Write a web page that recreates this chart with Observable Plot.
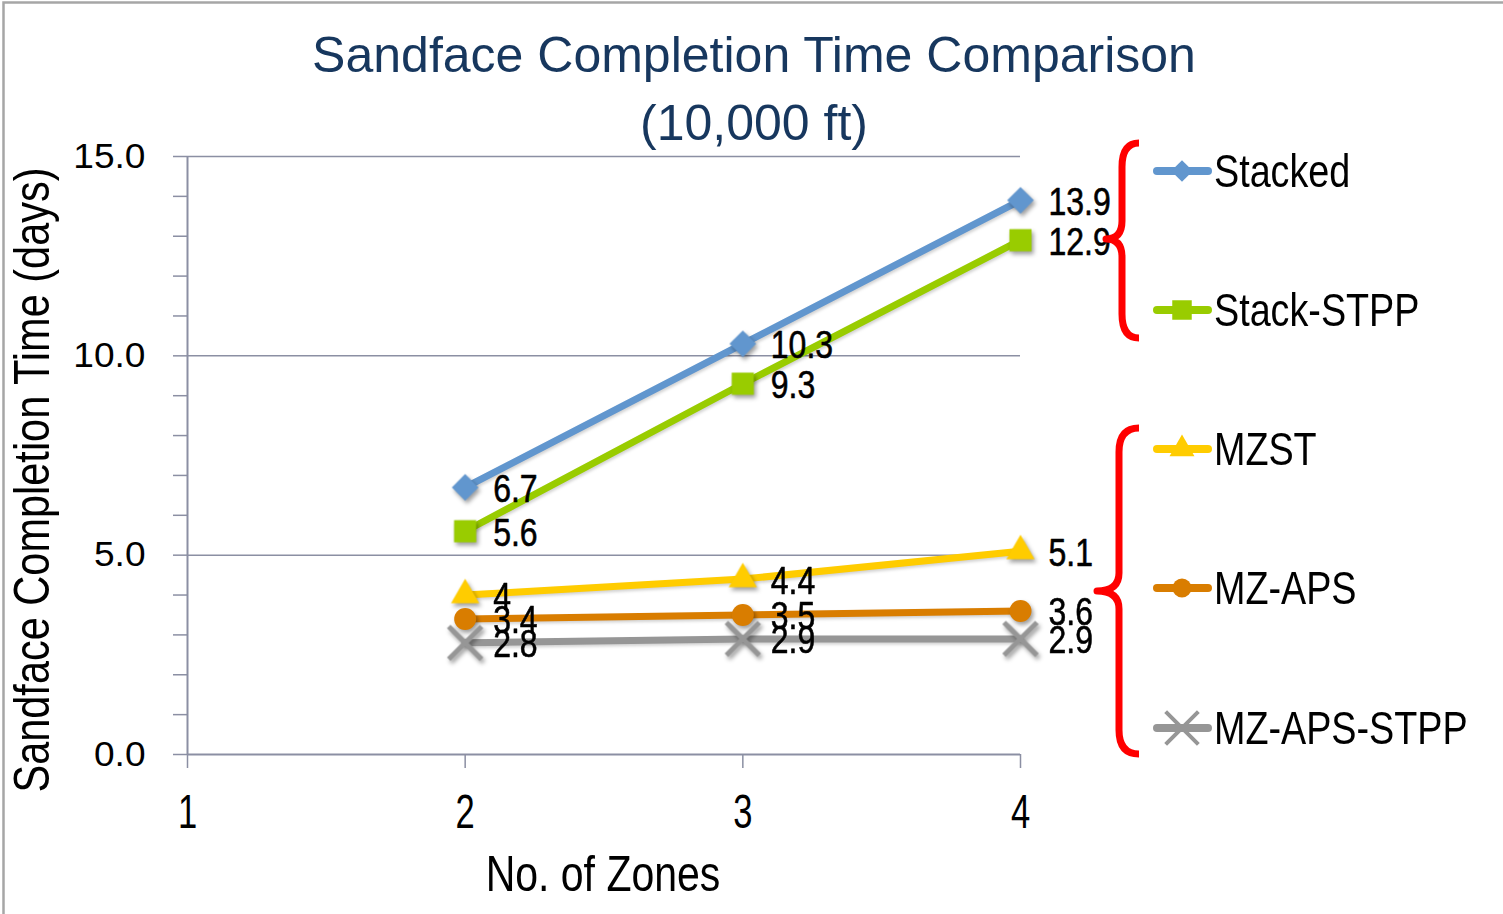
<!DOCTYPE html>
<html><head><meta charset="utf-8">
<script src="https://cdn.jsdelivr.net/npm/d3@7"></script>
<script src="https://cdn.jsdelivr.net/npm/@observablehq/plot@0.6"></script>
<style>
body{margin:0;background:#fff;}
#wrap{position:relative;width:1503px;height:914px;overflow:hidden;background:#fff;}
#wrap svg{position:absolute;left:0;top:0;}
g[aria-label="dot"]{filter:drop-shadow(2px 3px 2px rgba(0,0,0,0.38));}
g[aria-label="line"]{filter:drop-shadow(1px 2px 1.5px rgba(0,0,0,0.18));}
</style></head><body><div id="wrap"></div>
<script>
const FONT = "'Liberation Sans',Arial,sans-serif";

// ---- data ----
const titleLines = ["Sandface Completion Time Comparison", "(10,000 ft)"];
const xLabel = "No. of Zones";
const yLabel = "Sandface Completion Time (days)";
const zones = [2, 3, 4];
const xTicks = [1, 2, 3, 4];
const yTicks = [0, 5, 10, 15];
const yMinorTicks = [0,1,2,3,4,5,6,7,8,9,10,11,12,13,14,15];
const seriesNames = ["Stacked", "Stack-STPP", "MZST", "MZ-APS", "MZ-APS-STPP"];
const stacked   = [6.7, 10.3, 13.9];
const stackSTPP = [5.6, 9.3, 12.9];
const mzst      = [4, 4.4, 5.1];
const mzAps     = [3.4, 3.5, 3.6];
const mzApsStpp = [2.8, 2.9, 2.9];
const seriesValues = [stacked, stackSTPP, mzst, mzAps, mzApsStpp];
const seriesColors = ["#6196CE", "#99CC00", "#FFCC00", "#D97D00", "#969696"];
const seriesSymbols = ["diamond2", "square", "triangle", "circle", "times"];
const seriesR = [12, 12.5, 10.5, 11, 15];

const gridC = "#8B8FA3";
const W = 1503, H = 914;

const rows = seriesNames.flatMap((name, i) =>
  zones.map((z, j) => ({series: name, idx: i, zone: z, value: seriesValues[i][j]})));

const marks = [
  Plot.ruleY([5, 10, 15], {x1: 1, x2: 4, stroke: gridC, strokeWidth: 1.5}),
  Plot.ruleX([1], {y1: 0, y2: 15, stroke: gridC, strokeWidth: 2}),
  Plot.ruleY([0], {x1: 1, x2: 4, stroke: gridC, strokeWidth: 2}),
  Plot.axisY({ticks: yMinorTicks, tickSize: 14, tickFormat: () => "", fill: "none", stroke: gridC, strokeWidth: 1.5, label: null}),
  Plot.axisX({ticks: xTicks, tickSize: 14, tickFormat: () => "", fill: "none", stroke: gridC, strokeWidth: 1.5, label: null}),
  Plot.text(yTicks, {x: () => 1, y: d => d, dx: -42, textAnchor: "end", text: d => d.toFixed(1), fontSize: 35, fontFamily: FONT, fill: "#000"}),
  Plot.text(xTicks, {x: d => d, y: () => 0, dy: 58, textAnchor: "middle", text: d => String(d), fontSize: 48, fontFamily: FONT, fill: "#000"})
];
seriesNames.forEach((name, i) => {
  const d = rows.filter(r => r.idx === i);
  marks.push(Plot.line(d, {x: "zone", y: "value", stroke: seriesColors[i], strokeWidth: 7}));
});
seriesNames.forEach((name, i) => {
  const d = rows.filter(r => r.idx === i);
  const isStroke = seriesSymbols[i] === "times";
  marks.push(Plot.dot(d, isStroke
    ? {x: "zone", y: "value", symbol: () => seriesSymbols[i], r: seriesR[i], stroke: seriesColors[i], strokeWidth: 5, fill: "none"}
    : {x: "zone", y: "value", symbol: () => seriesSymbols[i], r: seriesR[i], fill: seriesColors[i], stroke: "none"}));
});
seriesNames.forEach((name, i) => {
  const d = rows.filter(r => r.idx === i);
  marks.push(Plot.text(d, {x: "zone", y: "value", text: r => String(r.value), dx: 28, dy: 2, textAnchor: "start", fontSize: 39, fontFamily: FONT, fill: "#000", stroke: "#000", strokeWidth: 0.6}));
});

const chart = Plot.plot({
  width: W, height: H,
  marginLeft: 187, marginRight: 483, marginTop: 156, marginBottom: 160,
  x: {domain: [1, 4]},
  y: {domain: [0, 15]},
  symbol: {type: "identity"},
  style: {background: "transparent", overflow: "visible"},
  marks
});
document.getElementById("wrap").appendChild(chart);

// condense text horizontally (Arial Narrow look) without moving its anchor
function condense(t, k) {
  const L = t.getComputedTextLength();
  if (L > 0) {
    t.setAttribute("textLength", L * k);
    t.setAttribute("lengthAdjust", "spacingAndGlyphs");
  }
}
chart.querySelectorAll('g[aria-label="text"]').forEach(g => {
  const fs = parseFloat(g.getAttribute("font-size"));
  const k = fs === 48 ? 0.72 : fs === 39 ? 0.82 : fs === 35 ? 1.06 : 1;
  if (k === 1) return;
  g.querySelectorAll("text").forEach(t => condense(t, k));
});

// ---- overlay: title, axis labels, legend, frame ----
const svg = d3.select("#wrap").append("svg").attr("width", W).attr("height", H).style("overflow", "visible").style("pointer-events", "none");

svg.append("path").attr("d", `M3.5,${H} L3.5,2.5 L${W},2.5`).attr("fill", "none").attr("stroke", "#A6A6A6").attr("stroke-width", 2.5);

const titleY = [72, 140];
titleLines.forEach((t, i) => {
  const el = svg.append("text").attr("x", 754).attr("y", titleY[i]).attr("text-anchor", "middle")
    .attr("font-family", FONT).attr("font-size", 50).attr("fill", "#17375E").text(t);
  condense(el.node(), 1.0);
});
const xl = svg.append("text").attr("x", 603).attr("y", 891).attr("text-anchor", "middle")
  .attr("font-family", FONT).attr("font-size", 50).attr("fill", "#000").text(xLabel);
condense(xl.node(), 0.82);
const yl = svg.append("text").attr("transform", "translate(49,480) rotate(-90)").attr("text-anchor", "middle")
  .attr("font-family", FONT).attr("font-size", 50).attr("fill", "#000").text(yLabel);
condense(yl.node(), 0.83);

// braces
const braces = [
  {top: 143, bottom: 338, tip: 239, tipX: 1106, vx: 1122},
  {top: 428, bottom: 754, tip: 591, tipX: 1097, vx: 1119}
];
braces.forEach(b => {
  const ex = 1139, c = 24, tc = 18;
  const p = `M${ex},${b.top} Q${b.vx},${b.top} ${b.vx},${b.top + c} L${b.vx},${b.tip - tc} Q${b.vx},${b.tip} ${b.tipX},${b.tip} Q${b.vx},${b.tip} ${b.vx},${b.tip + tc} L${b.vx},${b.bottom - c} Q${b.vx},${b.bottom} ${ex},${b.bottom}`;
  svg.append("path").attr("d", p).attr("fill", "none").attr("stroke", "#FF0000").attr("stroke-width", 7).attr("stroke-linejoin", "round");
});

// legend
const legY = [171, 310, 449, 588, 728];
const legSym = {
  diamond2: d3.symbolDiamond2, square: d3.symbolSquare, triangle: d3.symbolTriangle,
  circle: d3.symbolCircle, times: d3.symbolTimes
};
const legSize = [300, 380, 270, 280, 700];
seriesNames.forEach((name, i) => {
  const y = legY[i];
  const g = svg.append("g");
  g.append("line").attr("x1", 1157).attr("x2", 1208).attr("y1", y).attr("y2", y)
    .attr("stroke", seriesColors[i]).attr("stroke-width", 8).attr("stroke-linecap", "round");
  const sym = d3.symbol(legSym[seriesSymbols[i]], legSize[i])();
  const path = g.append("path").attr("d", sym).attr("transform", `translate(1182,${y})`);
  if (seriesSymbols[i] === "times") path.attr("fill", "none").attr("stroke", seriesColors[i]).attr("stroke-width", 4);
  else path.attr("fill", seriesColors[i]);
  const tx = g.append("text").attr("x", 1214).attr("y", y + 16).attr("font-family", FONT)
    .attr("font-size", 46).attr("fill", "#000").text(name);
  condense(tx.node(), 0.82);
});
</script></body></html>
